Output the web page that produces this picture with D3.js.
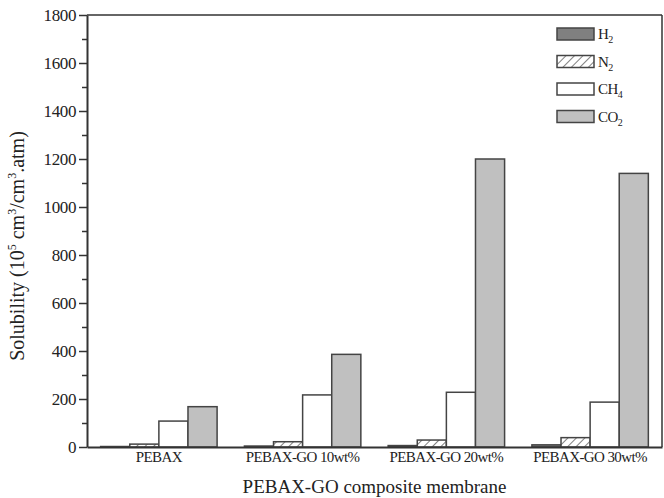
<!DOCTYPE html>
<html>
<head>
<meta charset="utf-8">
<script src="https://cdn.jsdelivr.net/npm/d3@7"></script>
<style>
  body { margin: 0; background: #fff; }
  svg { display: block; font-family: "Liberation Serif", "DejaVu Serif", serif; }
</style>
</head>
<body>
<div id="chart"></div>
<script>
const categories = ["PEBAX", "PEBAX-GO 10wt%", "PEBAX-GO 20wt%", "PEBAX-GO 30wt%"];
const gases = ["H2", "N2", "CH4", "CO2"];
const h2 = [2, 4, 6, 9];
const n2 = [12, 22, 29, 39];
const ch4 = [108, 217, 228, 187];
const co2 = [168, 386, 1200, 1140];
const yTicks = [0, 200, 400, 600, 800, 1000, 1200, 1400, 1600, 1800];

const W = 664, H = 498;
const margin = { top: 15, right: 2, bottom: 51, left: 87 };
const width = W - margin.left - margin.right;
const height = H - margin.top - margin.bottom;

const svg = d3.select("#chart").append("svg")
    .attr("width", W)
    .attr("height", H);

const defs = svg.append("defs");
const pat = defs.append("pattern")
    .attr("id", "hatch")
    .attr("patternUnits", "userSpaceOnUse")
    .attr("width", 6)
    .attr("height", 6)
    .attr("patternTransform", "rotate(45)");
pat.append("rect").attr("width", 6).attr("height", 6).attr("fill", "#fff");
pat.append("line")
    .attr("x1", 0).attr("y1", 0).attr("x2", 0).attr("y2", 6)
    .attr("stroke", "#555").attr("stroke-width", 1.5);

const g = svg.append("g")
    .attr("transform", `translate(${margin.left},${margin.top})`);

const x0 = d3.scaleBand().domain(categories).range([0, width]).paddingInner(0.19).paddingOuter(0.095);
const x1 = d3.scaleBand().domain(gases).range([0, x0.bandwidth()]);
const y = d3.scaleLinear().domain([0, 1800]).range([height, 0]);

const fills = { H2: "#808080", N2: "url(#hatch)", CH4: "#ffffff", CO2: "#c0c0c0" };
const labels = { H2: ["H", "2"], N2: ["N", "2"], CH4: ["CH", "4"], CO2: ["CO", "2"] };

const rows = categories.map((c, i) => ({
  cat: c,
  vals: [
    { gas: "H2", v: h2[i] },
    { gas: "N2", v: n2[i] },
    { gas: "CH4", v: ch4[i] },
    { gas: "CO2", v: co2[i] }
  ]
}));

g.selectAll(".grp")
    .data(rows)
    .enter().append("g")
    .attr("class", "grp")
    .attr("transform", d => `translate(${x0(d.cat)},0)`)
    .selectAll("rect")
    .data(d => d.vals)
    .enter().append("rect")
    .attr("x", d => x1(d.gas))
    .attr("y", d => y(d.v))
    .attr("width", x1.bandwidth())
    .attr("height", d => height - y(d.v))
    .attr("fill", d => fills[d.gas])
    .attr("stroke", "#444")
    .attr("stroke-width", 1.5);

// frame
g.append("line").attr("x1", 0).attr("x2", width).attr("y1", 0).attr("y2", 0)
    .attr("stroke", "#333").attr("stroke-width", 1.5);
g.append("line").attr("x1", width).attr("x2", width).attr("y1", 0).attr("y2", height)
    .attr("stroke", "#333").attr("stroke-width", 1.5);

// minor ticks
const yMinor = d3.axisLeft(y).tickValues(d3.range(100, 1800, 200)).tickSize(5).tickFormat("");
g.append("g").call(yMinor).call(a => a.select(".domain").remove())
    .selectAll("line").attr("stroke", "#333").attr("stroke-width", 1.5);

const yAxis = d3.axisLeft(y).tickValues(yTicks).tickSize(8).tickPadding(3)
    .tickSizeOuter(0).tickFormat(d3.format("d"));
const ya = g.append("g").call(yAxis);
ya.select(".domain").attr("stroke", "#333").attr("stroke-width", 2);
ya.selectAll(".tick line").attr("stroke", "#333").attr("stroke-width", 1.5);
ya.selectAll("text").attr("font-size", 17).attr("fill", "#222")
    .attr("font-family", "Liberation Serif").attr("letter-spacing", -0.4);

const xAxis = d3.axisBottom(x0).tickSize(0).tickPadding(4).tickSizeOuter(0);
const xa = g.append("g").attr("transform", `translate(0,${height})`).call(xAxis);
xa.select(".domain").attr("stroke", "#333").attr("stroke-width", 2);
xa.selectAll("text").attr("font-size", 15).attr("fill", "#222")
    .attr("font-family", "Liberation Serif").attr("letter-spacing", -0.6);

// legend
const legend = g.selectAll(".legend")
    .data(gases)
    .enter().append("g")
    .attr("class", "legend")
    .attr("transform", (d, i) => `translate(${557 - margin.left},${13 + i * 27.5})`);
legend.append("rect")
    .attr("width", 37).attr("height", 12)
    .attr("fill", d => fills[d])
    .attr("stroke", "#444").attr("stroke-width", 1.5);
const lt = legend.append("text")
    .attr("x", 41).attr("y", 11)
    .attr("font-size", 15).attr("fill", "#222").attr("letter-spacing", -0.6);
lt.append("tspan").text(d => labels[d][0]);
lt.append("tspan").attr("font-size", 10).attr("dy", 4).text(d => labels[d][1]);

// axis titles
const yt = svg.append("text")
    .attr("transform", `translate(24,${margin.top + 231}) rotate(-90)`)
    .attr("text-anchor", "middle")
    .attr("font-size", 20).attr("fill", "#222");
yt.append("tspan").text("Solubility (10");
yt.append("tspan").attr("font-size", 12).attr("dy", -8).text("5");
yt.append("tspan").attr("dy", 8).text(" cm");
yt.append("tspan").attr("font-size", 12).attr("dy", -8).text("3");
yt.append("tspan").attr("dy", 8).text("/cm");
yt.append("tspan").attr("font-size", 12).attr("dy", -8).text("3");
yt.append("tspan").attr("dy", 8).text(".atm)");

svg.append("text")
    .attr("x", margin.left + width / 2)
    .attr("y", 493)
    .attr("text-anchor", "middle")
    .attr("font-size", 19).attr("fill", "#222")
    .text("PEBAX-GO composite membrane");
</script>
</body>
</html>
